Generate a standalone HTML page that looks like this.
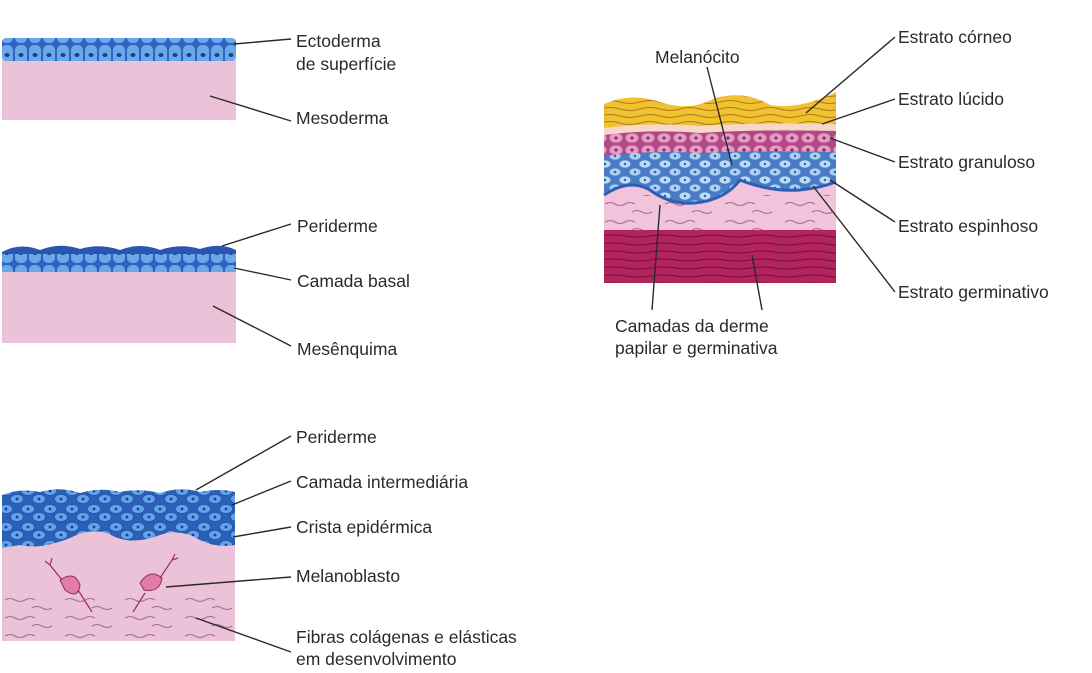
<!DOCTYPE html>
<html><head><meta charset="utf-8"><style>
html,body{margin:0;padding:0;background:#fff;}
svg{display:block}
text{font-family:"Liberation Sans",Arial,sans-serif;font-size:17.5px;fill:#2a2a2a}
</style></head><body>
<svg width="1092" height="673" viewBox="0 0 1092 673" xmlns="http://www.w3.org/2000/svg">
<defs>
<pattern id="cellrow" x="0" y="0" width="14" height="22" patternUnits="userSpaceOnUse">
<rect width="14" height="22" fill="#2f63c0"/>
<rect x="1" y="1" width="12" height="20" rx="5" fill="#6aa8ea"/>
<ellipse cx="7" cy="11" rx="2.5" ry="2" fill="#1d3f8a"/>
</pattern>
<pattern id="cells" x="0" y="0" width="22" height="18" patternUnits="userSpaceOnUse">
<rect width="22" height="18" fill="#2b5fb8"/>
<ellipse cx="6" cy="5" rx="6.5" ry="4.5" fill="#5fa3ea" stroke="#27549e" stroke-width="0.8"/>
<ellipse cx="17" cy="13" rx="6.5" ry="4.5" fill="#5fa3ea" stroke="#27549e" stroke-width="0.8"/>
<ellipse cx="-5" cy="13" rx="6.5" ry="4.5" fill="#5fa3ea" stroke="#27549e" stroke-width="0.8"/>
<ellipse cx="28" cy="5" rx="6.5" ry="4.5" fill="#5fa3ea" stroke="#27549e" stroke-width="0.8"/>
<circle cx="6" cy="5" r="1.4" fill="#1d3f8a"/>
<circle cx="17" cy="13" r="1.4" fill="#1d3f8a"/>
</pattern>
<pattern id="lcells" x="0" y="0" width="20" height="16" patternUnits="userSpaceOnUse">
<rect width="20" height="16" fill="#4a7cc6"/>
<ellipse cx="5" cy="4" rx="6" ry="4" fill="#bcdcf5" stroke="#4a7cc6" stroke-width="0.8"/>
<ellipse cx="15" cy="12" rx="6" ry="4" fill="#a9d0f2" stroke="#4a7cc6" stroke-width="0.8"/>
<ellipse cx="-5" cy="12" rx="6" ry="4" fill="#a9d0f2" stroke="#4a7cc6" stroke-width="0.8"/>
<ellipse cx="25" cy="4" rx="6" ry="4" fill="#bcdcf5" stroke="#4a7cc6" stroke-width="0.8"/>
<circle cx="5" cy="4" r="1.2" fill="#3a5a9a"/>
<circle cx="15" cy="12" r="1.2" fill="#3a5a9a"/>
</pattern>
<pattern id="pcells" x="0" y="0" width="16" height="12" patternUnits="userSpaceOnUse">
<rect width="16" height="12" fill="#b04a86"/>
<ellipse cx="8" cy="6" rx="6.5" ry="4.8" fill="#e79ac4"/>
<circle cx="8" cy="6" r="1.5" fill="#7a1d55"/>
</pattern>
<pattern id="yellow" x="0" y="0" width="40" height="7" patternUnits="userSpaceOnUse">
<rect width="40" height="7" fill="#f0c232"/>
<path d="M0 4 Q10 1 20 4 T40 4" stroke="#b07a10" stroke-width="1" fill="none"/>
</pattern>
<pattern id="magenta" x="0" y="0" width="50" height="8" patternUnits="userSpaceOnUse">
<rect width="50" height="8" fill="#b3245e"/>
<path d="M0 4 Q12 2 25 4 T50 4" stroke="#6e0f35" stroke-width="1" fill="none"/>
</pattern>
<pattern id="fibers" x="0" y="0" width="60" height="18" patternUnits="userSpaceOnUse">
<path d="M5 6 q5 -3 10 0 t10 0 t10 0" stroke="#a66a95" stroke-width="1.1" fill="none"/>
<path d="M32 14 q5 -3 10 0 t10 0" stroke="#a66a95" stroke-width="1.1" fill="none"/>
</pattern>
</defs>

<!-- Panel 1 -->
<rect x="2" y="60" width="234" height="60" fill="#ecc2d8"/>
<rect x="2" y="38" width="234" height="23" fill="url(#cellrow)" rx="4"/>

<!-- Panel 2 -->
<rect x="2" y="271" width="234" height="72" fill="#ecc2d8"/>
<rect x="2" y="252" width="234" height="20" fill="url(#cellrow)"/>
<path d="M2 252 Q20 242 40 250 Q60 242 80 249 Q100 243 120 250 Q140 242 160 250 Q180 243 200 249 Q220 242 236 250 L236 254 L2 254 Z" fill="#2a55b0"/>

<!-- Panel 3 -->
<rect x="2" y="515" width="233" height="126" fill="#ecc2d8"/>
<rect x="2" y="595" width="233" height="46" fill="url(#fibers)"/>
<path d="M2 495 Q20 488 40 492 Q60 486 80 493 Q100 487 120 492 Q140 488 160 493 Q180 486 200 492 Q220 488 235 492 L235 545 Q215 548 200 540 Q180 528 160 535 Q135 545 115 537 Q95 525 70 538 Q40 550 20 545 L2 548 Z" fill="url(#cells)"/>
<g fill="#e07ca8" stroke="#9a2d62" stroke-width="1">
<path d="M60 580 q15 -10 20 5 q-2 15 -15 5 z"/>
<path d="M140 583 q10 -15 22 -5 q-2 15 -18 12 z"/>
</g>
<g stroke="#9a2d62" stroke-width="1.2" fill="none">
<path d="M62 580 L50 565 M50 565 l-5 -4 M50 565 l2 -7"/>
<path d="M78 590 L92 612"/>
<path d="M160 578 L172 560 l3 -6 M172 560 l6 -2"/>
<path d="M145 593 L133 612"/>
</g>

<!-- Right panel -->
<rect x="604" y="228" width="232" height="55" fill="url(#magenta)"/>
<rect x="604" y="170" width="232" height="60" fill="#f2c4dc"/>
<rect x="604" y="195" width="232" height="35" fill="url(#fibers)"/>
<path d="M604 150 L836 150 L836 182 Q820 188 800 190 Q770 192 740 180 Q725 200 695 203 Q670 205 650 190 Q630 178 604 195 Z" fill="url(#lcells)"/>
<path d="M604 195 Q630 178 650 190 Q670 205 695 203 Q725 200 740 180 Q770 192 800 190 Q820 188 836 182" fill="none" stroke="#2e5fb5" stroke-width="3"/>
<path d="M604 134 Q650 128 700 132 Q760 128 836 130 L836 152 Q760 150 700 153 Q650 150 604 156 Z" fill="url(#pcells)"/>
<path d="M604 104 Q630 92 660 102 Q690 112 715 98 Q745 90 770 105 Q800 110 836 92 L836 128 Q760 124 700 128 Q650 124 604 130 Z" fill="url(#yellow)"/>
<path d="M604 128 Q650 122 700 126 Q760 122 836 124 L836 131 Q760 129 700 133 Q650 129 604 135 Z" fill="#f6d7c9"/>

<!-- Connectors -->
<g stroke="#2a2a2a" stroke-width="1.4" fill="none">
<line x1="234" y1="44" x2="291" y2="39"/>
<line x1="210" y1="96" x2="291" y2="121"/>
<line x1="222" y1="246" x2="291" y2="224"/>
<line x1="234" y1="268" x2="291" y2="280"/>
<line x1="213" y1="306" x2="291" y2="346"/>
<line x1="196" y1="490" x2="291" y2="436"/>
<line x1="232" y1="505" x2="291" y2="481"/>
<line x1="233" y1="537" x2="291" y2="527"/>
<line x1="166" y1="587" x2="291" y2="577"/>
<line x1="196" y1="618" x2="291" y2="652"/>
<line x1="806" y1="113" x2="895" y2="37"/>
<line x1="822" y1="124" x2="895" y2="99"/>
<line x1="830" y1="138" x2="895" y2="162"/>
<line x1="830" y1="180" x2="895" y2="222"/>
<line x1="813" y1="186" x2="895" y2="292"/>
<line x1="707" y1="67" x2="732" y2="165"/>
<line x1="660" y1="205" x2="652" y2="310"/>
<line x1="752" y1="255" x2="762" y2="310"/>
</g>

<!-- Labels -->
<text x="296" y="47">Ectoderma</text>
<text x="296" y="70">de superfície</text>
<text x="296" y="124">Mesoderma</text>
<text x="297" y="232">Periderme</text>
<text x="297" y="287">Camada basal</text>
<text x="297" y="355">Mesênquima</text>
<text x="296" y="443">Periderme</text>
<text x="296" y="488">Camada intermediária</text>
<text x="296" y="533">Crista epidérmica</text>
<text x="296" y="582">Melanoblasto</text>
<text x="296" y="643">Fibras colágenas e elásticas</text>
<text x="296" y="665">em desenvolvimento</text>
<text x="898" y="43">Estrato córneo</text>
<text x="898" y="105">Estrato lúcido</text>
<text x="898" y="168">Estrato granuloso</text>
<text x="898" y="232">Estrato espinhoso</text>
<text x="898" y="298">Estrato germinativo</text>
<text x="655" y="63">Melanócito</text>
<text x="615" y="332">Camadas da derme</text>
<text x="615" y="354">papilar e germinativa</text>
</svg>
</body></html>
